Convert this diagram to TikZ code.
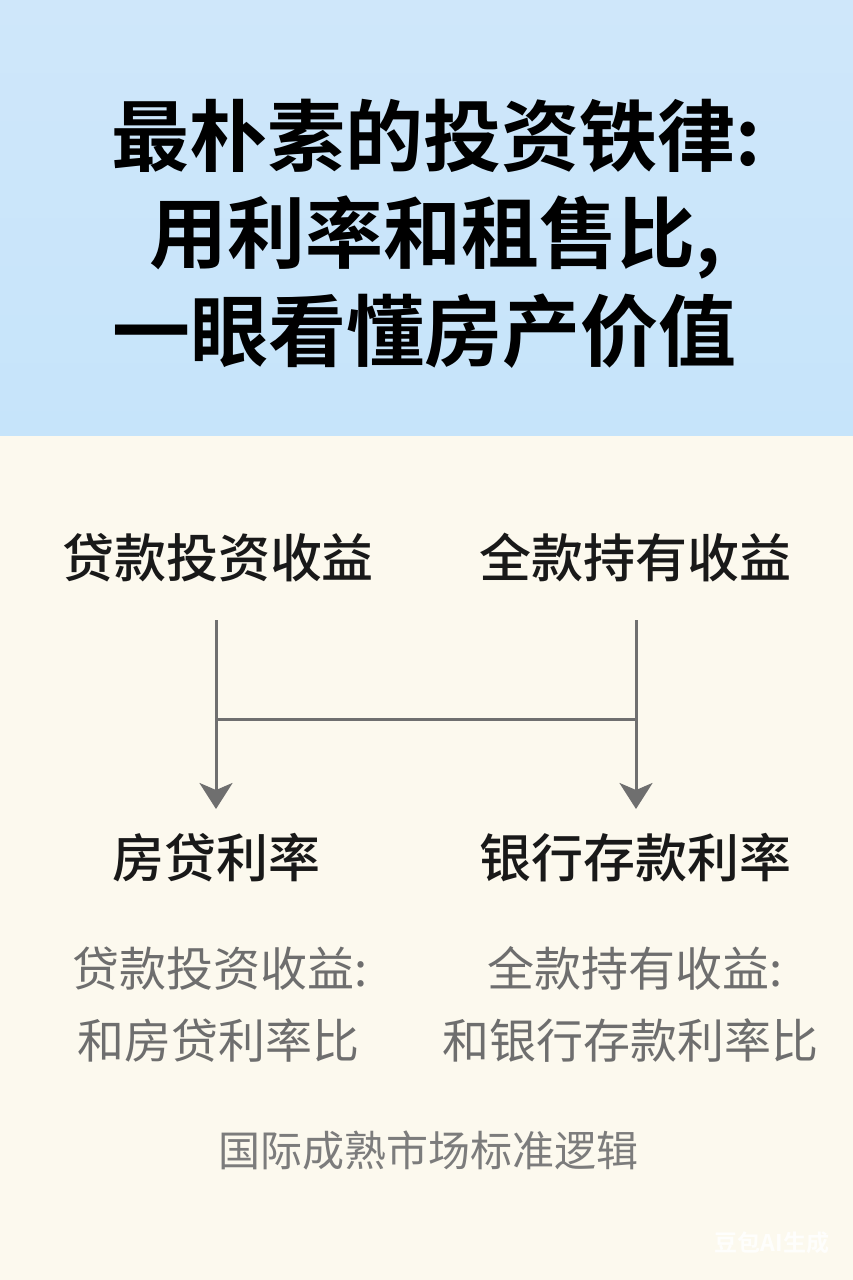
\documentclass[tikz,border=0pt]{standalone}
\usepackage{fontspec}
\usetikzlibrary{arrows.meta}
\newfontfamily\cjk{Noto Sans CJK SC}
\newfontfamily\cjkmed{Noto Sans CJK SC Medium}
\newfontfamily\cjkbold{Noto Sans CJK SC Bold}
\definecolor{skytop}{HTML}{CFE7FA}
\definecolor{skybot}{HTML}{C6E4FA}
\definecolor{cream}{HTML}{FCF9EE}
\definecolor{linegray}{HTML}{6F6F6F}
\definecolor{txtgray}{HTML}{6E6E6E}
\tikzset{
  title/.style={inner sep=0pt, anchor=base, font=\cjkbold\fontsize{78}{78}\selectfont, text=black},
  head/.style={inner sep=0pt, anchor=base, font=\cjkmed\fontsize{52}{52}\selectfont, text=black!90},
  note/.style={inner sep=0pt, anchor=base, font=\cjk\fontsize{47}{47}\selectfont, text=txtgray},
  foot/.style={inner sep=0pt, anchor=base, font=\cjk\fontsize{42}{42}\selectfont, text=txtgray!90},
  wm/.style={inner sep=0pt, anchor=base, font=\cjkbold\fontsize{23}{23}\selectfont, text=white, text opacity=0.85},
  conn/.style={draw=linegray, line width=3pt},
  arr/.style={conn, -{Stealth[length=26pt,width=33pt,inset=7pt]}},
}
\begin{document}
\begin{tikzpicture}[x=1pt,y=-1pt]
  \useasboundingbox (0,0) rectangle (853,1280);
  \fill[cream] (0,435) rectangle (853,1280);
  \shade[top color=skytop, bottom color=skybot] (0,0) rectangle (853,435);

  % title
  \node[title] (t1) at (436,165) {最朴素的投资铁律:};
  \node[title] (t2) at (435,262) {用利率和租售比,};
  \node[title] (t3) at (424,360) {一眼看懂房产价值};

  % headers
  \node[head] (hL) at (218,577) {贷款投资收益};
  \node[head] (hR) at (635,577) {全款持有收益};

  % targets
  \node[head] (bL) at (216,877) {房贷利率};
  \node[head] (bR) at (635,877) {银行存款利率};

  % connectors
  \coordinate (sL) at (216,620);
  \coordinate (sR) at (636,620);
  \coordinate (mL) at (216,719);
  \coordinate (mR) at (636,719);
  \coordinate (eL) at (216,809);
  \coordinate (eR) at (636,809);
  \draw[arr] (sL) -- (eL);
  \draw[arr] (sR) -- (eR);
  \draw[conn] (mL) -- (mR);

  % notes
  \node[note] (nL1) at (220,986) {贷款投资收益:};
  \node[note] (nL2) at (218,1058) {和房贷利率比};
  \node[note] (nR1) at (635,986) {全款持有收益:};
  \node[note] (nR2) at (630,1058) {和银行存款利率比};

  % footer
  \node[foot] (ft) at (428,1166) {国际成熟市场标准逻辑};

  % watermark
  \node[wm] (wm) at (772,1251) {豆包AI生成};
\end{tikzpicture}
\end{document}
